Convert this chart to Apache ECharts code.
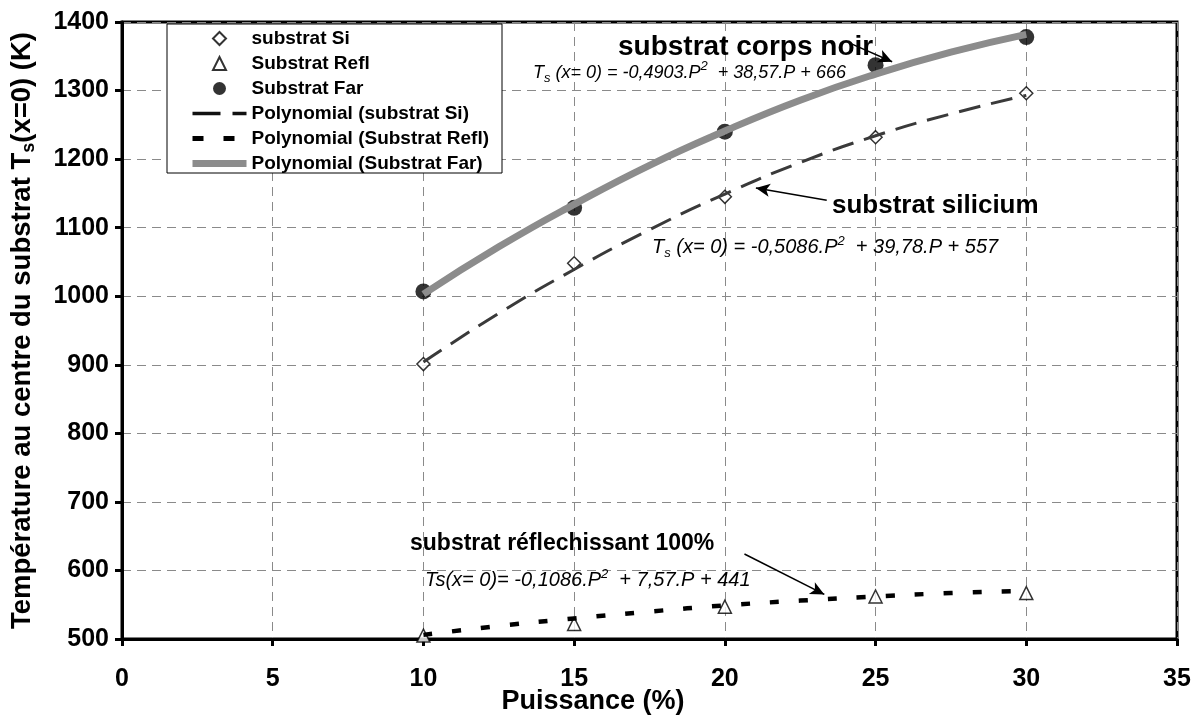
<!DOCTYPE html>
<html>
<head>
<meta charset="utf-8">
<script src="https://cdn.jsdelivr.net/npm/echarts@6/dist/echarts.min.js"></script>
<style>html,body{margin:0;padding:0;background:#fff}#c{width:1201px;height:722px}</style>
</head>
<body>
<div id="c"></div>
<script>
// ---- data ----
const puissance = [10, 15, 20, 25, 30];
const substratSi = [901, 1048, 1145, 1232, 1296];
const substratRefl = [505, 522, 547, 562, 567];
const substratFar = [1007, 1129, 1240, 1337, 1378];

// trend curves (as drawn), sampled every 2.5 %
const trendP = [10, 12.5, 15, 17.5, 20, 22.5, 25, 27.5, 30];
const trendSi = [904, 975, 1039, 1097, 1149, 1195, 1234, 1266, 1293];
const trendRefl = [506, 519, 530, 540, 549, 556, 562, 567, 570];
const trendFar = [1003, 1072, 1134, 1191, 1241, 1286, 1324, 1356, 1382];

const xTicks = { min: 0, max: 35, interval: 5 };
const yTicks = { min: 500, max: 1400, interval: 100 };

const FONT = 'Arial, "Liberation Sans", sans-serif';
const pairs = (xs, ys) => xs.map((x, i) => [x, ys[i]]);

const chart = echarts.init(document.getElementById('c'), null, { renderer: 'canvas' });
const gridDash = { color: '#8a8a8a', width: 1, type: [9, 6] };
const eqRich = {
  s: { font: 'italic 13px ' + FONT, fill: '#000', padding: [12, 0, 0, 0] },
  p: { font: 'italic 13px ' + FONT, fill: '#000', padding: [0, 0, 12, 0] }
};

chart.setOption({
  animation: false,
  backgroundColor: '#fff',
  grid: { left: 122, right: 24, top: 22, bottom: 83, outerBoundsMode: 'none', containLabel: false,
    show: true, borderColor: '#000', borderWidth: 3, backgroundColor: 'transparent' },
  xAxis: {
    type: 'value', min: xTicks.min, max: xTicks.max, interval: xTicks.interval,
    name: 'Puissance (%)', nameLocation: 'middle', nameGap: 49, nameMoveOverlap: false,
    nameTextStyle: { color: '#000', fontFamily: FONT, fontWeight: 'bold', fontSize: 27, padding: [0, 113, 0, 0] },
    axisLine: { onZero: false, lineStyle: { color: '#000', width: 3 } },
    axisTick: { show: true, inside: false, length: 7, lineStyle: { color: '#000', width: 3 } },
    axisLabel: { color: '#000', fontFamily: FONT, fontWeight: 'bold', fontSize: 25, margin: 28,
      formatter: v => String(v) },
    splitLine: { show: true, lineStyle: gridDash }
  },
  yAxis: {
    type: 'value', min: yTicks.min, max: yTicks.max, interval: yTicks.interval,
    name: 'Température au centre du substrat T{sub|s}(x=0) (K)',
    nameLocation: 'middle', nameGap: 84, nameMoveOverlap: false,
    nameTextStyle: { color: '#000', fontFamily: FONT, fontWeight: 'bold', fontSize: 27.5,
      rich: { sub: { fontFamily: FONT, fontWeight: 'bold', fontSize: 18, color: '#000', padding: [14, 0, 0, 0] } } },
    axisLine: { show: true, onZero: false, lineStyle: { color: '#000', width: 3 } },
    axisTick: { show: true, inside: false, length: 7, lineStyle: { color: '#000', width: 3 } },
    axisLabel: { color: '#000', fontFamily: FONT, fontWeight: 'bold', fontSize: 25, margin: 13,
      formatter: v => String(v) },
    splitLine: { show: true, lineStyle: gridDash }
  },
  legend: {
    orient: 'vertical', left: 189, top: 29, padding: 0, itemGap: 6,
    itemWidth: 54, itemHeight: 13, z: 10, selectedMode: false, symbolKeepAspect: true,
    textStyle: { color: '#000', fontFamily: FONT, fontWeight: 'bold', fontSize: 19 },
    data: [
      { name: 'substrat Si', icon: 'path://M0,-1L1,0L0,1L-1,0Z' },
      { name: 'Substrat Refl', icon: 'path://M0,-1L1,1L-1,1Z' },
      { name: 'Substrat Far', icon: 'circle' },
      { name: 'Polynomial (substrat Si)', itemStyle: { opacity: 0 }, lineStyle: { color: '#111', width: 3.5, type: [28, 12] } },
      { name: 'Polynomial (Substrat Refl)', itemStyle: { opacity: 0 }, lineStyle: { color: '#000', width: 5, type: [11, 20] } },
      { name: 'Polynomial (Substrat Far)', itemStyle: { opacity: 0 }, lineStyle: { color: '#8c8c8c', width: 7, type: 'solid' } }
    ]
  },
  graphic: [
    { type: 'rect', z: 5, shape: { x: 167, y: 24, width: 335, height: 149 }, style: { fill: '#fff', stroke: '#000', lineWidth: 1 } },
    { type: 'text', z: 20, left: 618, top: 33, style: { text: 'substrat corps noir', font: 'bold 28px ' + FONT, fill: '#000' } },
    { type: 'text', z: 20, left: 533, top: 60, style: { text: 'T{s|s} (x= 0) = -0,4903.P{p|2}  + 38,57.P + 666', font: 'italic 18px ' + FONT, fill: '#000', rich: eqRich } },
    { type: 'text', z: 20, left: 832, top: 193, style: { text: 'substrat silicium', font: 'bold 26px ' + FONT, fill: '#000' } },
    { type: 'text', z: 20, left: 652, top: 235, style: { text: 'T{s|s} (x= 0) = -0,5086.P{p|2}  + 39,78.P + 557', font: 'italic 20px ' + FONT, fill: '#000', rich: eqRich } },
    { type: 'text', z: 20, left: 410, top: 532, style: { text: 'substrat réflechissant 100%', font: 'bold 23px ' + FONT, fill: '#000' } },
    { type: 'text', z: 20, left: 425, top: 568, style: { text: 'Ts(x= 0)= -0,1086.P{p|2}  + 7,57.P + 441', font: 'italic 20px ' + FONT, fill: '#000', rich: eqRich } }
  ],
  series: [
    { name: 'substrat Si', type: 'scatter', z: 3, data: pairs(puissance, substratSi), symbol: 'diamond', symbolSize: 13,
      itemStyle: { color: '#fff', borderColor: '#000', borderWidth: 1.5 } },
    { name: 'Substrat Refl', type: 'scatter', z: 3, data: pairs(puissance, substratRefl), symbol: 'triangle', symbolSize: 13,
      itemStyle: { color: '#fff', borderColor: '#000', borderWidth: 1.5 } },
    { name: 'Substrat Far', type: 'scatter', z: 3, data: pairs(puissance, substratFar), symbol: 'circle', symbolSize: 16,
      itemStyle: { color: '#000', borderColor: '#000', borderWidth: 0 } },
    { name: 'Polynomial (substrat Si)', type: 'line', z: 4, data: pairs(trendP, trendSi), smooth: true, symbol: 'none',
      itemStyle: { color: '#3a3a3a' }, lineStyle: { color: '#3a3a3a', width: 3, type: [22, 11] },
      markLine: { silent: true, symbol: ['none', 'arrow'], symbolSize: [10, 14], label: { show: false },
        lineStyle: { color: '#000', width: 1.5, type: 'solid' },
        data: [[{ coord: [23.38, 1140] }, { coord: [21.03, 1158] }]] } },
    { name: 'Polynomial (Substrat Refl)', type: 'line', z: 4, data: pairs(trendP, trendRefl), smooth: true, symbol: 'none',
      itemStyle: { color: '#000' }, lineStyle: { color: '#000', width: 4.5, type: [9, 20] },
      markLine: { silent: true, symbol: ['none', 'arrow'], symbolSize: [10, 14], label: { show: false },
        lineStyle: { color: '#000', width: 1.5, type: 'solid' },
        data: [[{ coord: [20.65, 624] }, { coord: [23.3, 565] }]] } },
    { name: 'Polynomial (Substrat Far)', type: 'line', z: 4, data: pairs(trendP, trendFar), smooth: true, symbol: 'none',
      itemStyle: { color: '#8c8c8c' }, lineStyle: { color: '#8c8c8c', width: 7, type: 'solid' },
      markLine: { silent: true, symbol: ['none', 'arrow'], symbolSize: [10, 14], label: { show: false },
        lineStyle: { color: '#000', width: 1.5, type: 'solid' },
        data: [[{ coord: [24.2, 1368] }, { coord: [25.55, 1342] }]] } }
  ]
});
</script>
</body>
</html>
